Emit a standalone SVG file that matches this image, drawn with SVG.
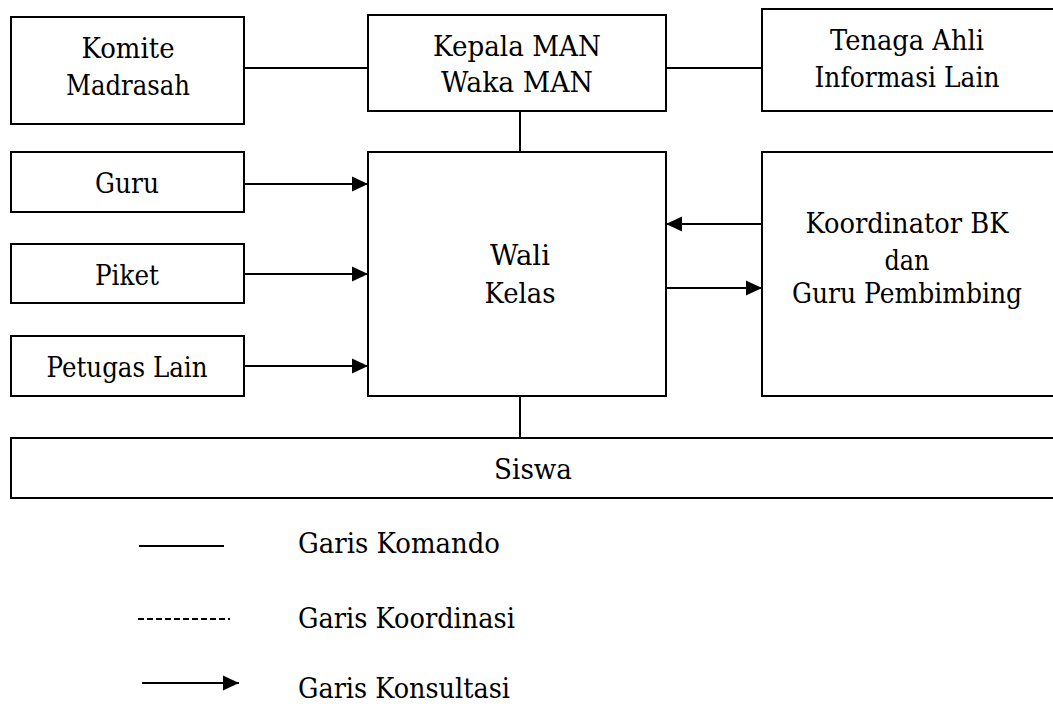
<svg xmlns="http://www.w3.org/2000/svg" width="1053" height="704" viewBox="0 0 1053 704">
<style>
.box{fill:#fff;stroke:#000;stroke-width:2}
text{font-family:'DejaVu Serif',serif;font-size:28px;fill:#000}
.t{text-anchor:middle}
.ln{stroke:#000;stroke-width:2;fill:none}
</style>
<defs>
<marker id="ah" markerUnits="userSpaceOnUse" markerWidth="16" markerHeight="16" refX="16" refY="8" orient="auto">
<path d="M0,0.5 L16,8 L0,15.5 Z" fill="#000"/>
</marker>
</defs>
<rect width="1053" height="704" fill="#fff"/>
<g id="connectors">
<line class="ln" x1="244" y1="68" x2="368" y2="68"/>
<line class="ln" x1="666" y1="68" x2="762" y2="68"/>
<line class="ln" x1="520" y1="111" x2="520" y2="152"/>
<line class="ln" x1="520" y1="396" x2="520" y2="438"/>
<line class="ln" x1="244" y1="184" x2="368" y2="184" marker-end="url(#ah)"/>
<line class="ln" x1="244" y1="274" x2="368" y2="274" marker-end="url(#ah)"/>
<line class="ln" x1="244" y1="366" x2="368" y2="366" marker-end="url(#ah)"/>
<line class="ln" x1="762" y1="224" x2="666" y2="224" marker-end="url(#ah)"/>
<line class="ln" x1="666" y1="288" x2="762" y2="288" marker-end="url(#ah)"/>
</g>
<g id="komite"><rect class="box" x="11" y="17" width="233" height="107"/><text class="t" x="128" y="58" textLength="93" lengthAdjust="spacingAndGlyphs">Komite</text><text class="t" x="128" y="95" textLength="124" lengthAdjust="spacingAndGlyphs">Madrasah</text></g>
<g id="kepala"><rect class="box" x="368" y="15" width="298" height="96"/><text class="t" x="517" y="56" textLength="168" lengthAdjust="spacingAndGlyphs">Kepala MAN</text><text class="t" x="517" y="92" textLength="152" lengthAdjust="spacingAndGlyphs">Waka MAN</text></g>
<g id="tenaga"><rect class="box" x="762" y="9" width="300" height="102"/><text class="t" x="907" y="50" textLength="154" lengthAdjust="spacingAndGlyphs">Tenaga Ahli</text><text class="t" x="907" y="87" textLength="185" lengthAdjust="spacingAndGlyphs">Informasi Lain</text></g>
<g id="guru"><rect class="box" x="11" y="152" width="233" height="60"/><text class="t" x="127" y="193" textLength="64" lengthAdjust="spacingAndGlyphs">Guru</text></g>
<g id="piket"><rect class="box" x="11" y="244" width="233" height="59"/><text class="t" x="127" y="285" textLength="64" lengthAdjust="spacingAndGlyphs">Piket</text></g>
<g id="petugas"><rect class="box" x="11" y="336" width="233" height="60"/><text class="t" x="127" y="377" textLength="161" lengthAdjust="spacingAndGlyphs">Petugas Lain</text></g>
<g id="wali"><rect class="box" x="368" y="152" width="298" height="244"/><text class="t" x="520" y="265" textLength="60" lengthAdjust="spacingAndGlyphs">Wali</text><text class="t" x="520" y="303" textLength="71" lengthAdjust="spacingAndGlyphs">Kelas</text></g>
<g id="koordinator"><rect class="box" x="762" y="152" width="300" height="244"/><text class="t" x="907" y="233" textLength="203" lengthAdjust="spacingAndGlyphs">Koordinator BK</text><text class="t" x="907" y="270" textLength="45" lengthAdjust="spacingAndGlyphs">dan</text><text class="t" x="907" y="303" textLength="230" lengthAdjust="spacingAndGlyphs">Guru Pembimbing</text></g>
<g id="siswa"><rect class="box" x="11" y="438" width="1050" height="60"/><text class="t" x="533" y="479" textLength="78" lengthAdjust="spacingAndGlyphs">Siswa</text></g>
<g id="legend">
<line class="ln" x1="139" y1="546" x2="224" y2="546"/>
<line class="ln" x1="138" y1="619" x2="230" y2="619" stroke-dasharray="6,3"/>
<line class="ln" x1="142" y1="683" x2="239" y2="683" marker-end="url(#ah)"/>
<text x="298" y="553" textLength="202" lengthAdjust="spacingAndGlyphs">Garis Komando</text>
<text x="298" y="628" textLength="217" lengthAdjust="spacingAndGlyphs">Garis Koordinasi</text>
<text x="298" y="698" textLength="212" lengthAdjust="spacingAndGlyphs">Garis Konsultasi</text>
</g>
</svg>
